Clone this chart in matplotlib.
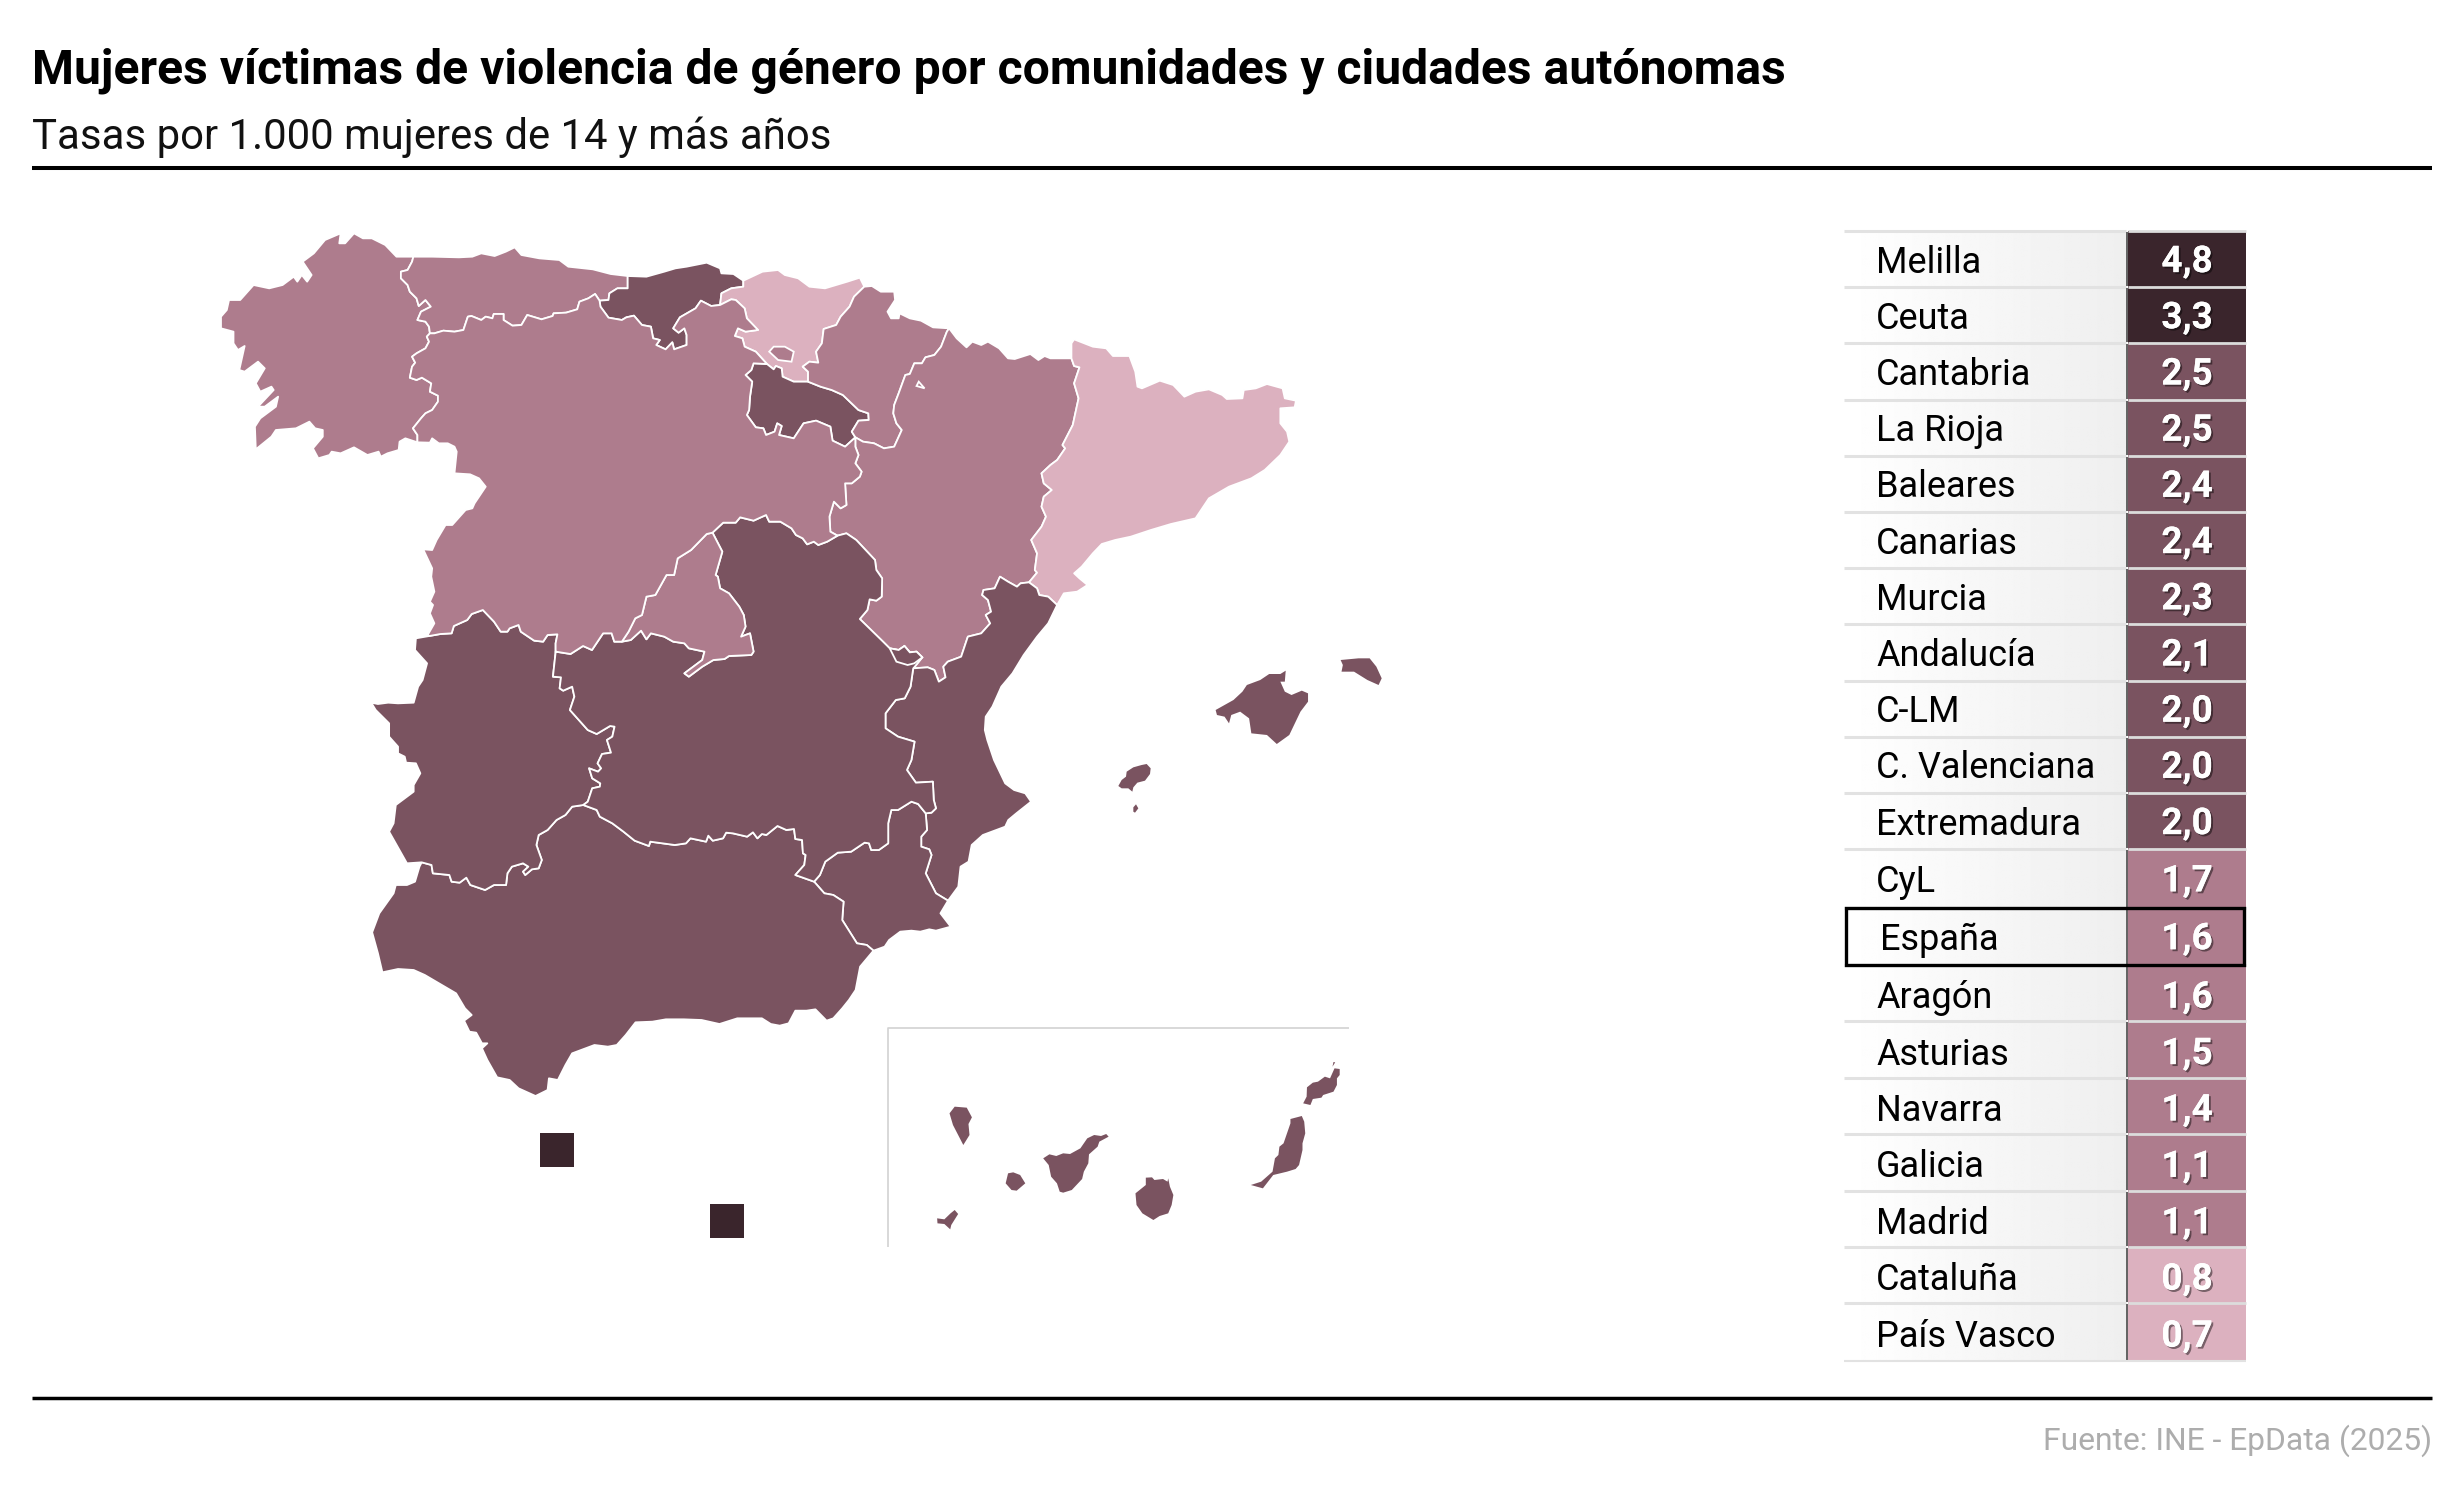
import numpy as np
import matplotlib
matplotlib.use("Agg")
import matplotlib.pyplot as plt
import matplotlib.patheffects as pe
from matplotlib.colors import BoundaryNorm, ListedColormap
from matplotlib.patches import Polygon, Rectangle

# table data
labels = ["Melilla", "Ceuta", "Cantabria", "La Rioja", "Baleares", "Canarias", "Murcia",
          "Andalucía", "C-LM", "C. Valenciana", "Extremadura", "CyL", "España", "Aragón",
          "Asturias", "Navarra", "Galicia", "Madrid", "Cataluña", "País Vasco"]
values = [4.8, 3.3, 2.5, 2.5, 2.4, 2.4, 2.3, 2.1, 2.0, 2.0, 2.0, 1.7, 1.6, 1.6, 1.5, 1.4, 1.1, 1.1, 0.8, 0.7]
rates = dict(zip(labels, values))

bin_edges = [0, 1.0, 1.9, 3.0, 6.0]
bin_colors = ["#dcb1bf", "#ae7c8d", "#7a5360", "#3a252c"]

title = "Mujeres víctimas de violencia de género por comunidades y ciudades autónomas"
subtitle = "Tasas por 1.000 mujeres de 14 y más años"
source = "Fuente: INE - EpData (2025)"


def nw(pts):
    return [(200 + x / 2.24, 210 + y / 3) for x, y in pts]


def ne(pts):
    return [(700 + x / 2.24, 250 + y / 3) for x, y in pts]


def sth(pts):
    return [(340 + x / 2.24, 600 + y / 3) for x, y in pts]


def can(pts):
    return [(860 + x / 2.904, 1000 + y / 3) for x, y in pts]


def ibz(pts):
    return [(1100 + x / 3, 750 + y / 3) for x, y in pts]


gal_coast = nw([(478, 140), (440, 140), (415, 105), (385, 85), (365, 85), (345, 70), (325, 100), (312, 100),
                (315, 70), (280, 90), (255, 130), (230, 155), (250, 195), (240, 215), (228, 195), (218, 215),
                (210, 200), (185, 225), (155, 235), (120, 225), (90, 270), (65, 270), (60, 300), (47, 320),
                (47, 355), (75, 365), (75, 400), (85, 420), (100, 408), (88, 480), (100, 485), (130, 455),
                (145, 475), (125, 520), (135, 545), (160, 530), (165, 540), (130, 590), (145, 590), (175, 560),
                (170, 590), (135, 625), (123, 650), (125, 718), (160, 680), (170, 660), (215, 655), (245, 635),
                (258, 655), (275, 660), (275, 680), (253, 715), (265, 745), (290, 735), (295, 725), (315, 730),
                (345, 712), (375, 735), (400, 725), (405, 740), (420, 730), (445, 720), (447, 695), (460, 685),
                (487, 697)])
gal_cyl = nw([(487, 697), (487, 675), (477, 655), (495, 625), (505, 610), (520, 600), (533, 575), (533, 557),
              (515, 545), (518, 520), (497, 503), (485, 510), (470, 503), (475, 470), (482, 458), (475, 440),
              (485, 430), (505, 415), (513, 395), (508, 380), (515, 370)])
gal_ast = nw([(515, 370), (513, 350), (505, 335), (487, 330), (495, 305), (517, 290), (505, 270), (490, 288),
              (485, 265), (470, 245), (465, 225), (450, 205), (450, 185), (465, 180), (475, 155), (478, 140)])
ast_coast = nw([(478, 140), (520, 140), (580, 142), (610, 140), (630, 130), (660, 138), (685, 125), (705, 112),
                (720, 135), (760, 145), (805, 150), (825, 170), (880, 178), (920, 192), (958, 198)])
ast_cant = nw([(958, 198), (958, 235), (935, 235), (917, 250), (915, 270), (895, 272)])
ast_cyl = nw([(895, 272), (885, 252), (870, 265), (850, 275), (845, 298), (820, 308), (792, 310), (790, 318),
              (765, 328), (733, 315), (720, 345), (700, 347), (680, 330), (680, 312), (658, 312), (655, 325),
              (640, 320), (630, 330), (608, 318), (600, 320), (590, 360), (570, 365), (545, 362), (525, 370),
              (515, 370)])
cant_coast = nw([(958, 198), (1000, 200), (1040, 185), (1065, 175), (1090, 170), (1135, 158), (1165, 175),
                 (1168, 190), (1195, 192), (1217, 212)])
cant_pv = nw([(1217, 212), (1217, 230), (1190, 235), (1168, 250), (1165, 285)])
cant_cyl = nw([(1165, 285), (1145, 288), (1122, 272), (1110, 295), (1075, 322), (1060, 355), (1072, 368),
               (1085, 355), (1090, 375), (1090, 405), (1062, 418), (1058, 397), (1043, 418), (1022, 405),
               (1030, 390), (1015, 385), (1010, 350), (990, 345), (972, 317), (955, 322), (945, 330), (915, 323),
               (897, 290), (895, 272)])
pv_coast = nw([(1217, 212), (1260, 185), (1295, 180), (1310, 195), (1340, 205), (1365, 230), (1400, 235),
               (1450, 215), (1478, 203), (1488, 230)])
pv_nav = nw([(1488, 230), (1465, 260), (1455, 290), (1435, 320), (1425, 345), (1397, 357), (1393, 400),
             (1380, 425), (1385, 458), (1365, 455), (1350, 470), (1362, 485), (1362, 515)])
pv_rioja = nw([(1362, 515), (1330, 515), (1305, 500), (1303, 475), (1290, 468), (1285, 478), (1270, 462)])
pv_cyl = nw([(1270, 462), (1245, 425), (1220, 410), (1215, 385), (1198, 378), (1205, 355), (1222, 365),
             (1250, 360), (1225, 325), (1220, 295), (1200, 270), (1190, 268), (1165, 285)])
trevino = nw([(1275, 425), (1285, 410), (1310, 410), (1330, 425), (1325, 455), (1295, 450)])
rioja_cyl = nw([(1270, 462), (1240, 460), (1235, 480), (1222, 495), (1237, 515), (1232, 560), (1230, 600),
                (1225, 615), (1245, 652), (1262, 655), (1268, 675), (1287, 665), (1293, 640), (1303, 648),
                (1297, 675), (1330, 685), (1352, 640), (1380, 632), (1412, 650), (1417, 692), (1445, 710),
                (1468, 682)])
rioja_nav = nw([(1468, 682), (1460, 665), (1475, 632), (1498, 630), (1497, 610), (1475, 600), (1440, 555),
                (1415, 540), (1390, 530), (1362, 515)])
nav_coast = ne([(368, 110), (385, 108), (405, 125), (435, 125), (437, 150), (420, 185), (428, 205), (445, 205),
                (447, 190), (470, 205), (495, 212), (522, 232), (558, 235)])
nav_ara = ne([(558, 235), (553, 245), (540, 290), (525, 315), (505, 322), (497, 340), (480, 340), (470, 372),
              (460, 375), (445, 430), (435, 465), (433, 490), (440, 520), (452, 540), (435, 590), (412, 595),
              (390, 580), (365, 575), (348, 562)])
petilla = ne([(490, 395), (503, 415), (485, 408)])
ara_coast = ne([(558, 235), (575, 265), (597, 292), (610, 275), (630, 285), (645, 275), (670, 295), (690, 325),
                (705, 327), (740, 312), (758, 330), (772, 318), (785, 325), (832, 325)])
ara_cat = ne([(832, 325), (838, 348), (850, 352), (838, 400), (848, 445), (835, 525), (812, 585), (818, 595),
              (800, 630), (785, 645), (765, 670), (770, 700), (788, 720), (770, 740), (765, 770), (775, 800),
              (765, 830), (742, 870), (755, 910), (750, 960), (755, 968), (737, 997)])
ara_val = ne([(737, 997), (718, 1000), (710, 1010), (690, 995), (672, 980), (660, 1015), (635, 1020), (632, 1035),
              (645, 1050), (652, 1085), (640, 1095), (650, 1120), (630, 1150), (600, 1160), (585, 1220),
              (555, 1235), (545, 1250), (550, 1282), (535, 1295), (525, 1260), (510, 1252), (478, 1255)])
ara_clm = ne([(478, 1255), (498, 1222), (485, 1205), (470, 1207), (458, 1188), (445, 1200), (425, 1195),
              (410, 1175), (358, 1107), (375, 1080), (380, 1048), (395, 1052), (407, 1040), (408, 985), (395, 960),
              (392, 930), (350, 870), (328, 850), (308, 857)])
ara_cyl = ne([(308, 857), (292, 845), (290, 800), (300, 755), (315, 775), (328, 765), (325, 700), (340, 700),
              (358, 680), (362, 665), (348, 640), (355, 615), (348, 590), (348, 562)])
ademuz = ne([(425, 1195), (445, 1200), (458, 1188), (470, 1207), (485, 1205), (498, 1222), (480, 1240), (465, 1245),
             (440, 1235)])
cat_coast = ne([(832, 325), (832, 280), (838, 268), (880, 290), (910, 295), (925, 318), (962, 318), (975, 365),
                (980, 410), (990, 415), (1030, 392), (1060, 405), (1085, 440), (1110, 425), (1140, 418),
                (1170, 435), (1180, 447), (1215, 445), (1218, 420), (1245, 415), (1270, 402), (1305, 415),
                (1310, 445), (1335, 452), (1332, 472), (1300, 475), (1300, 520), (1315, 545), (1320, 575),
                (1300, 615), (1265, 660), (1235, 685), (1185, 710), (1140, 745), (1110, 805), (1055, 822),
                (1010, 840), (965, 860), (930, 870), (900, 882), (880, 910), (855, 950), (838, 970), (850, 985),
                (868, 1005), (845, 1025), (815, 1030), (800, 1065)])
cat_val = ne([(800, 1065), (780, 1040), (760, 1035), (755, 1015), (737, 997)])
val_coast_n = ne([(800, 1065), (780, 1120), (755, 1160), (725, 1215), (700, 1270), (675, 1310), (655, 1370),
                  (640, 1400), (638, 1440)])
val_coast_s = sth([(1450, 420), (1465, 480), (1490, 550), (1510, 570), (1535, 580), (1548, 605), (1515, 640),
                   (1497, 660), (1490, 680), (1440, 705), (1415, 735), (1408, 785), (1390, 800), (1385, 860),
                   (1362, 902)])
val_mur = sth([(1362, 902), (1335, 880), (1312, 820), (1325, 765), (1320, 748), (1302, 740), (1302, 710),
               (1315, 690), (1312, 640)])
val_clm = sth([(1284, 205), (1278, 260), (1265, 295), (1245, 300), (1222, 340), (1222, 385), (1250, 410),
               (1287, 425), (1280, 480), (1270, 510), (1290, 548), (1328, 545), (1330, 600), (1335, 625),
               (1325, 638), (1312, 640)])
clm_mur = sth([(1312, 640), (1295, 612), (1280, 605), (1250, 630), (1235, 630), (1228, 670), (1228, 730),
               (1207, 750), (1190, 750), (1185, 730), (1175, 728), (1145, 755), (1115, 758), (1087, 785),
               (1075, 825), (1062, 845)])
mur_and = sth([(1062, 845), (1085, 880), (1105, 885), (1128, 905), (1125, 960), (1158, 1030), (1180, 1035),
               (1195, 1052)])
mur_coast = sth([(1362, 902), (1345, 940), (1368, 980), (1335, 992), (1320, 988), (1300, 995), (1280, 992),
                 (1255, 995), (1230, 1020), (1220, 1040), (1195, 1052)])
and_coast = sth([(1195, 1052), (1165, 1100), (1155, 1170), (1140, 1200), (1125, 1225), (1105, 1255), (1090, 1262),
                 (1065, 1228), (1045, 1232), (1020, 1232), (1005, 1270), (985, 1277), (965, 1272), (945, 1255),
                 (890, 1255), (850, 1272), (810, 1260), (770, 1258), (730, 1258), (700, 1265), (662, 1267),
                 (640, 1305), (620, 1335), (600, 1340), (570, 1335), (520, 1360), (505, 1395), (488, 1440),
                 (468, 1435), (465, 1470), (438, 1488), (400, 1465), (380, 1440), (352, 1432), (330, 1380),
                 (318, 1345), (330, 1330), (318, 1330), (305, 1298), (290, 1295), (278, 1262), (295, 1245),
                 (280, 1225), (260, 1180), (190, 1125), (165, 1110), (130, 1107), (95, 1117), (85, 1060),
                 (72, 997), (88, 940), (120, 880), (125, 855), (150, 855), (168, 845), (178, 800), (183, 787)])
and_ext = sth([(183, 787), (205, 795), (208, 820), (245, 825), (250, 845), (268, 848), (283, 833), (292, 855),
               (325, 870), (345, 855), (372, 855), (375, 820), (385, 800), (410, 790), (422, 800), (410, 815),
               (415, 825), (430, 808), (445, 805), (452, 780), (440, 735), (445, 705), (465, 690), (485, 660),
               (505, 645), (520, 620), (545, 615)])
and_clm = sth([(545, 615), (575, 630), (582, 650), (610, 670), (635, 695), (660, 722), (692, 738), (695, 725),
               (750, 735), (775, 730), (785, 715), (820, 725), (825, 707), (835, 722), (858, 715), (865, 698),
               (880, 700), (912, 710), (925, 697), (935, 715), (945, 702), (955, 705), (980, 678), (1000, 690),
               (1017, 687), (1020, 717), (1035, 720), (1037, 760), (1043, 765), (1040, 795), (1020, 825),
               (1062, 845)])
clm_ext = sth([(545, 615), (555, 605), (565, 565), (582, 560), (583, 550), (565, 535), (558, 505), (578, 515),
               (585, 505), (577, 490), (587, 462), (607, 458), (598, 420), (610, 410), (615, 380), (605, 378),
               (575, 402), (555, 390), (515, 330), (525, 290), (520, 260), (500, 272), (492, 265), (495, 232),
               (477, 230), (483, 157)])
ext_cyl = sth([(483, 157), (483, 130), (487, 103), (465, 105), (455, 125), (435, 122), (405, 95), (400, 75),
               (380, 85), (375, 95), (360, 95), (345, 65), (320, 30), (295, 42), (285, 60), (255, 78), (250, 100),
               (225, 102), (200, 108)])
ext_coast = sth([(200, 108), (170, 115), (168, 150), (195, 190), (185, 240), (175, 260), (165, 308), (130, 310),
                 (108, 308), (85, 312), (70, 308), (80, 330), (110, 370), (110, 410), (130, 440), (130, 460),
                 (145, 470), (148, 488), (170, 490), (180, 520), (165, 555), (165, 575), (125, 615), (120, 670),
                 (110, 695), (150, 790), (183, 787)])
cyl_portugal = nw([(487, 697), (515, 698), (520, 685), (535, 700), (555, 700), (570, 710), (575, 725), (570, 790),
                   (605, 793), (625, 805), (640, 830), (615, 880), (610, 895), (595, 900), (565, 945), (550, 945),
                   (530, 990), (520, 1020), (500, 1018), (520, 1075), (518, 1100), (525, 1145), (515, 1175),
                   (522, 1185), (515, 1210), (525, 1240), (510, 1275)])
cyl_clm_w = nw([(797, 1325), (830, 1332), (858, 1308), (878, 1320), (903, 1270), (922, 1270), (928, 1295),
                (945, 1295)])
cyl_mad = nw([(945, 1295), (960, 1265), (975, 1225), (990, 1215), (1000, 1160), (1020, 1155), (1045, 1095),
              (1062, 1095), (1070, 1045), (1100, 1020), (1135, 972), (1148, 968)])
cyl_clm_n = nw([(1148, 968), (1172, 938), (1200, 938), (1210, 922), (1240, 932), (1268, 915), (1275, 935),
                (1300, 935), (1325, 955), (1335, 975), (1350, 985), (1360, 1003), (1375, 995), (1385, 1005),
                (1405, 995), (1428, 977)])
mad_clm = nw([(945, 1295), (965, 1290), (988, 1262), (1000, 1288), (1010, 1270), (1040, 1280), (1060, 1295),
              (1085, 1300), (1095, 1315), (1130, 1325), (1125, 1350), (1085, 1390), (1095, 1400), (1125, 1370),
              (1150, 1350), (1175, 1347), (1185, 1338), (1235, 1335), (1240, 1325), (1232, 1270), (1212, 1280),
              (1222, 1250), (1218, 1215), (1208, 1190), (1185, 1150), (1165, 1135), (1160, 1100), (1155, 1095),
              (1170, 1025), (1148, 968)])

mallorca = ne([(1312, 1262), (1300, 1272), (1275, 1272), (1255, 1290), (1225, 1305), (1215, 1325), (1195, 1350),
               (1175, 1365), (1155, 1380), (1158, 1395), (1175, 1400), (1185, 1420), (1190, 1395), (1210, 1385),
               (1230, 1405), (1235, 1450), (1270, 1455), (1292, 1482), (1320, 1455), (1345, 1385), (1362, 1355),
               (1362, 1330), (1348, 1322), (1325, 1335), (1310, 1325), (1300, 1295), (1310, 1295)])
menorca = ne([(1435, 1230), (1475, 1225), (1500, 1225), (1515, 1250), (1527, 1285), (1520, 1305), (1495, 1290),
              (1465, 1265), (1437, 1265), (1440, 1245)])
ibiza = ibz([(55, 108), (65, 90), (78, 80), (80, 65), (100, 52), (125, 45), (140, 42), (152, 55), (150, 72),
             (135, 92), (112, 98), (100, 112), (97, 125), (85, 115), (65, 115)])
formentera = ibz([(100, 172), (108, 163), (115, 175), (105, 188), (100, 185)])

la_palma = can([(260, 340), (275, 320), (310, 323), (325, 352), (315, 372), (318, 405), (300, 435), (290, 415),
                (270, 375)])
gomera = can([(423, 550), (430, 520), (445, 517), (465, 525), (480, 550), (455, 572), (440, 570)])
tenerife = can([(532, 475), (550, 463), (570, 468), (590, 460), (610, 462), (640, 445), (660, 415), (680, 405),
                (700, 408), (715, 402), (722, 410), (695, 425), (690, 440), (665, 463), (663, 490), (650, 515),
                (645, 537), (615, 570), (590, 578), (580, 575), (572, 550), (555, 530), (548, 495)])
gran_canaria = can([(830, 533), (848, 532), (855, 540), (880, 537), (893, 545), (895, 535), (900, 560), (910, 585),
                    (905, 615), (895, 640), (870, 648), (852, 660), (820, 640), (803, 615), (800, 580), (830, 555)])
el_hierro = can([(224, 655), (245, 658), (263, 640), (275, 630), (285, 642), (265, 675), (262, 688), (245, 672),
                 (225, 670)])
fuerteventura = can([(1135, 555), (1165, 545), (1198, 515), (1205, 475), (1215, 465), (1218, 440), (1230, 430),
                     (1250, 370), (1250, 357), (1283, 348), (1290, 365), (1293, 400), (1285, 430), (1285, 450),
                     (1275, 495), (1265, 507), (1240, 515), (1200, 525), (1170, 565)])
lanzarote = can([(1287, 310), (1297, 290), (1298, 262), (1315, 248), (1330, 245), (1350, 230), (1365, 235),
                 (1378, 205), (1393, 207), (1393, 225), (1385, 235), (1385, 255), (1375, 275), (1345, 285),
                 (1340, 293), (1315, 297), (1308, 315)])
graciosa = can([(1372, 200), (1375, 186), (1380, 187)])

ceuta = [(540, 1133), (573.5, 1133), (573.5, 1166.5), (540, 1166.5)]
melilla = [(710, 1204), (744, 1204), (744, 1237.5), (710, 1237.5)]


def rev(arc):
    return arc[::-1]


mainland = {
    "Galicia": gal_coast + gal_cyl + gal_ast,
    "Asturias": ast_coast + ast_cant + ast_cyl + gal_ast,
    "Cantabria": cant_coast + cant_pv + cant_cyl + rev(ast_cant),
    "País Vasco": pv_coast + pv_nav + pv_rioja + pv_cyl + rev(cant_pv),
    "La Rioja": pv_rioja + rioja_cyl + rioja_nav,
    "Navarra": rev(pv_nav) + nav_coast + nav_ara + rioja_nav,
    "Aragón": rev(nav_ara) + ara_coast + ara_cat + ara_val + ara_clm + ara_cyl,
    "Cataluña": cat_coast + cat_val + rev(ara_cat),
    "C. Valenciana": rev(ara_val) + rev(cat_val) + val_coast_n + val_coast_s + val_mur + rev(val_clm),
    "Murcia": val_mur + clm_mur + mur_and + rev(mur_coast),
    "Andalucía": and_coast + and_ext + and_clm + mur_and,
    "Extremadura": rev(and_ext) + rev(ext_coast) + rev(ext_cyl) + rev(clm_ext),
    "C-LM": rev(and_clm) + clm_ext + cyl_clm_w + mad_clm + cyl_clm_n + rev(ara_clm) + val_clm + clm_mur,
    "Madrid": cyl_mad + rev(mad_clm),
    "CyL": gal_cyl + rev(ast_cyl) + rev(cant_cyl) + rev(pv_cyl) + rioja_cyl + rev(ara_cyl) + rev(cyl_clm_n)
           + rev(cyl_mad) + rev(cyl_clm_w) + ext_cyl + rev(cyl_portugal),
}
enclaves = [("CyL", trevino), ("Navarra", petilla), ("C. Valenciana", ademuz)]
islands = {"Baleares": [mallorca, menorca, ibiza, formentera],
           "Canarias": [la_palma, gomera, tenerife, gran_canaria, el_hierro, fuerteventura, lanzarote, graciosa],
           "Ceuta": [ceuta], "Melilla": [melilla]}

cmap = ListedColormap(bin_colors)
norm = BoundaryNorm(bin_edges, cmap.N)

plt.rcParams["font.family"] = ["Roboto", "DejaVu Sans"]

fig = plt.figure(figsize=(24.64, 15.02), dpi=100)
ax = fig.add_axes([0, 0, 1, 1])
ax.set_axis_off()

# map
for name, pts in mainland.items():
    ax.add_patch(Polygon(pts, closed=True, facecolor=cmap(norm(rates[name])), edgecolor="white",
                         linewidth=1.3, joinstyle="round"))
for name, pts in enclaves:
    ax.add_patch(Polygon(pts, closed=True, facecolor=cmap(norm(rates[name])), edgecolor="white", linewidth=1.3))
for name, polys in islands.items():
    for pts in polys:
        ax.add_patch(Polygon(pts, closed=True, facecolor=cmap(norm(rates[name])), edgecolor="none"))

# canary islands inset frame
ax.plot([888, 888, 1349], [1247, 1028, 1028], color="#d2d2d2", lw=1.2, solid_capstyle="butt")

# table
row_tops = [231 + 56.2 * i for i in range(12)] + [907.5] + [965 + 56.4 * i for i in range(7)]
row_bottoms = row_tops[1:] + [1361]
gradient = np.linspace(1, 0.935, 256).reshape(1, -1)
spain = labels.index("España")
for i, (name, val) in enumerate(zip(labels, values)):
    top, bottom = row_tops[i], row_bottoms[i]
    mid = (top + bottom) / 2 + (1.5 if i > spain else 0)
    ax.imshow(gradient, extent=(1844, 2126, bottom, top), cmap="gray", vmin=0, vmax=1, aspect="auto", zorder=1)
    ax.add_patch(Rectangle((2128, top), 118, bottom - top, facecolor=cmap(norm(val)), edgecolor="none", zorder=1))
    ax.plot([1844, 2126], [top, top], color="#e2e2e2", lw=2.2, zorder=2, solid_capstyle="butt")
    ax.plot([2128, 2246], [top, top], color="#dcdcdc", lw=2.0, zorder=2, solid_capstyle="butt")
    ax.plot([2127, 2127], [top + 1, bottom - 1], color="#555555", lw=1.3, zorder=2, solid_capstyle="butt")
    x_lab = 1880 if i == spain else 1876
    ax.text(x_lab, mid + 13.5, name, fontsize=26, color="black", ha="left", va="baseline", zorder=3)
    txt = ax.text(2187, mid + 13, f"{val:.1f}".replace(".", ","), fontsize=26.6, fontweight="bold", color="white",
                  ha="center", va="baseline", zorder=3)
    txt.set_path_effects([pe.withSimplePatchShadow(offset=(1.4, -1.4), shadow_rgbFace="black", alpha=0.45),
                          pe.Normal()])
ax.plot([1844, 2246], [1361, 1361], color="#e2e2e2", lw=1.5, zorder=2, solid_capstyle="butt")

# highlighted row
ax.add_patch(Rectangle((1846, row_tops[spain]), 398, row_bottoms[spain] - row_tops[spain], facecolor="none",
                       edgecolor="black", linewidth=2.4, zorder=4))

# header and footer
ax.text(32, 84, title, fontsize=34.6, fontweight="bold", color="black", ha="left", va="baseline")
ax.text(32, 149, subtitle, fontsize=30.2, color="#111111", ha="left", va="baseline")
ax.plot([32, 2432], [167.5, 167.5], color="black", lw=2.9, solid_capstyle="butt")
ax.plot([32, 2432], [1398, 1398], color="black", lw=2.5, solid_capstyle="butt")
ax.text(2432, 1450, source, fontsize=22.9, color="#adadad", ha="right", va="baseline")

ax.set_xlim(0, 2464)
ax.set_ylim(1502, 0)

fig.savefig("out.png", dpi=100, facecolor="white")
